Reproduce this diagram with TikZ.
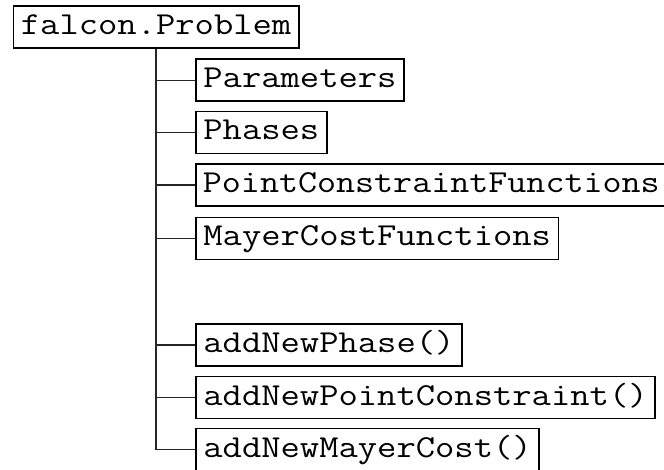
\documentclass[tikz,border=0pt]{standalone}
\usepackage{fontspec}
\begin{document}
\newcommand{\mytt}[2][1.172]{\scalebox{#1}[1]{#2}}
\begin{tikzpicture}[x=1pt,y=1pt,
  box/.style={draw, line width=1.8pt, font=\fontsize{32}{36}\selectfont\ttfamily,
    inner xsep=7.5pt, inner ysep=0pt, minimum height=42pt, text height=22pt, text depth=7pt, anchor=west},
  conn/.style={line width=1.4pt, black!85}]
\useasboundingbox (0,0) rectangle (664,-470);
\clip (0,0) rectangle (664,-470);
\node[box] (top) at (12.5,-27) {\mytt{falcon.Problem}};
\node[box] (par) at (195,-80.3) {\mytt{Parameters}};
\node[box] (pha) at (195,-132.5) {\mytt{Phases}};
\node[box, inner xsep=7pt] (pcf) at (195,-185) {\mytt[1.155]{PointConstraintFunctions}};
\node[box] (mcf) at (195,-238.5) {\mytt{MayerCostFunctions}};
\node[box] (anp) at (195,-345) {\mytt{addNewPhase()}};
\node[box] (anc) at (195,-397.5) {\mytt{addNewPointConstraint()}};
\node[box] (anm) at (195,-449.5) {\mytt{addNewMayerCost()}};
\draw[conn] (top.south) |- (anm.west);
\foreach \n in {par,pha,pcf,mcf,anp,anc}
  \draw[conn] (top.south |- \n.west) -- (\n.west);
\end{tikzpicture}
\end{document}
